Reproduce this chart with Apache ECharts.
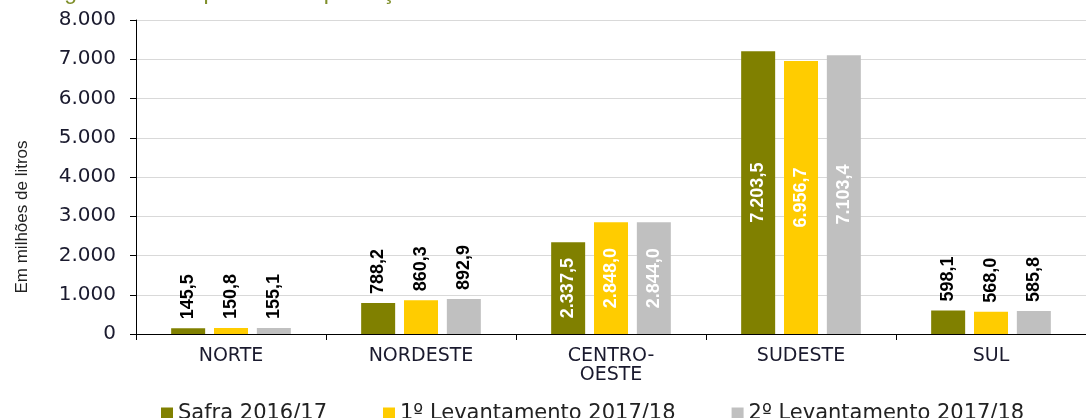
<!DOCTYPE html>
<html>
<head>
<meta charset="utf-8">
<script src="https://cdn.jsdelivr.net/npm/echarts@6/dist/echarts.min.js"></script>
<style>html,body{margin:0;padding:0;background:#fff}#c{width:1086px;height:418px}</style>
</head>
<body>
<div id="c"></div>
<script>
const categories = ['NORTE', 'NORDESTE', 'CENTRO-\nOESTE', 'SUDESTE', 'SUL'];
const seriesNames = ['Safra 2016/17', '1º Levantamento 2017/18', '2º Levantamento 2017/18'];
const safra1617 = [145.5, 788.2, 2337.5, 7203.5, 598.1];
const lev1 = [150.8, 860.3, 2848.0, 6956.7, 568.0];
const lev2 = [155.1, 892.9, 2844.0, 7103.4, 585.8];
const insideCats = [false, false, true, true, false];
const colors = ['#808000', '#FFCC00', '#C0C0C0'];
const yAxisName = 'Em milhões de litros';
const titleText = 'Figura 9 – Comparativo da produção de etanol anidro';

function fmtNum(v, dec) {
  const parts = v.toFixed(dec).split('.');
  parts[0] = parts[0].replace(/\B(?=(\d{3})+(?!\d))/g, '.');
  return parts.join(',');
}

const labelFont = {fontFamily: 'Liberation Sans', fontSize: 18, fontWeight: 'bold'};

function makeData(arr) {
  return arr.map((v, i) => ({
    value: v,
    label: insideCats[i]
      ? Object.assign({show: true, position: 'inside', rotate: 90, color: '#fff'}, labelFont)
      : Object.assign({show: true, position: 'top', rotate: 90, distance: 9, color: '#000', align: 'left', verticalAlign: 'middle'}, labelFont)
  }));
}

const chart = echarts.init(document.getElementById('c'));
chart.setOption({
  animation: false,
  title: {
    text: titleText, left: 40, top: -24,
    textStyle: {color: '#7f8f2a', fontFamily: 'Liberation Sans', fontSize: 23, fontWeight: 'normal'}
  },
  graphic: [{
    type: 'text', x: 22, y: 217, rotation: Math.PI / 2,
    style: {text: yAxisName, fill: '#222', font: '17px "Liberation Sans"', align: 'center', verticalAlign: 'middle'}
  }],
  grid: {left: 136, right: -8, top: 20, bottom: 84},
  legend: {
    data: seriesNames, left: 156, top: 398, itemWidth: 12, itemHeight: 12, itemGap: 56, icon: 'rect',
    textStyle: {fontFamily: 'DejaVu Sans', fontSize: 21, color: '#222'}
  },
  xAxis: {
    type: 'category', data: categories,
    axisLine: {lineStyle: {color: '#000', width: 1}},
    axisTick: {show: true, length: 6, alignWithLabel: false, lineStyle: {color: '#000'}},
    axisLabel: {margin: 13, color: '#1a1a2e', fontFamily: 'DejaVu Sans', fontSize: 19, lineHeight: 19}
  },
  yAxis: {
    type: 'value', min: 0, max: 8000, interval: 1000,
    axisLine: {show: true, lineStyle: {color: '#000'}},
    axisTick: {show: true, length: 6, lineStyle: {color: '#000'}},
    splitLine: {lineStyle: {color: '#d9d9d9'}},
    axisLabel: {margin: 20, color: '#1a1a2e', fontFamily: 'DejaVu Sans', fontSize: 20,
      formatter: v => fmtNum(v, 0)}
  },
  series: [
    {name: seriesNames[0], type: 'bar', data: makeData(safra1617), barWidth: 34, barGap: '26%', itemStyle: {color: colors[0]},
      label: {formatter: p => fmtNum(p.value, 1)}},
    {name: seriesNames[1], type: 'bar', data: makeData(lev1), barWidth: 34, barGap: '26%', itemStyle: {color: colors[1]},
      label: {formatter: p => fmtNum(p.value, 1)}},
    {name: seriesNames[2], type: 'bar', data: makeData(lev2), barWidth: 34, barGap: '26%', itemStyle: {color: colors[2]},
      label: {formatter: p => fmtNum(p.value, 1)}}
  ]
});
</script>
</body>
</html>
